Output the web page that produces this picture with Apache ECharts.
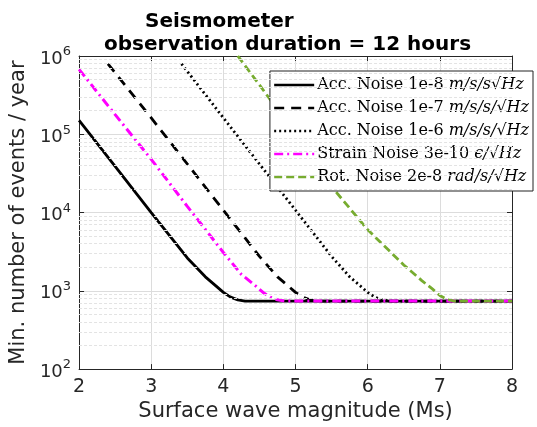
<!DOCTYPE html>
<html>
<head>
<meta charset="utf-8">
<script src="https://cdn.jsdelivr.net/npm/echarts@6/dist/echarts.min.js"></script>
<style>
  html, body { margin: 0; padding: 0; background: #fff; }
  #chart { width: 537px; height: 427px; }
</style>
</head>
<body>
<div id="chart"></div>
<script>
// magnitude (Ms) and min. number of events / year
const accE8X = [2, 2.5, 3, 3.5, 3.75, 3.9, 4, 4.1, 4.2, 4.3, 5, 6, 7, 8];
const accE8Y = [151000, 38900, 10000, 2630, 1510, 1150, 955, 832, 767, 740, 740, 740, 740, 740];

const accE7X = [2.4, 3, 3.5, 4, 4.5, 4.75, 4.9, 5, 5.1, 5.2, 5.3, 6, 7, 8];
const accE7Y = [794000, 162000, 41700, 10700, 2750, 1510, 1150, 955, 832, 767, 740, 740, 740, 740];

const accE6X = [3.42, 4, 4.5, 5, 5.5, 5.75, 5.9, 6, 6.1, 6.2, 6.3, 7, 8];
const accE6Y = [794000, 162000, 41700, 10700, 2750, 1510, 1150, 955, 832, 767, 740, 740, 740];

const strainX = [2, 2.5, 3, 3.5, 4, 4.25, 4.45, 4.55, 4.65, 4.75, 4.85, 6, 7, 8];
const strainY = [676000, 178000, 47900, 12000, 3090, 1620, 1150, 955, 832, 767, 740, 740, 740, 740];

const rotX = [4.2, 4.5, 5, 5.5, 6, 6.5, 6.75, 6.9, 7, 7.1, 7.2, 8];
const rotY = [1000000, 427000, 100000, 21400, 6030, 2140, 1350, 1050, 871, 776, 740, 740];

const xTicks = [2, 3, 4, 5, 6, 7, 8];
const minorGrid = [200, 300, 400, 500, 600, 700, 800, 900,
  2000, 3000, 4000, 5000, 6000, 7000, 8000, 9000,
  20000, 30000, 40000, 50000, 60000, 70000, 80000, 90000,
  200000, 300000, 400000, 500000, 600000, 700000, 800000, 900000];

const names = [
  'Acc. Noise 1e-8',
  'Acc. Noise 1e-7',
  'Acc. Noise 1e-6',
  'Strain Noise 3e-10',
  'Rot. Noise 2e-8'
];
const units = ['m/s/s√Hz', 'm/s/s/√Hz', 'm/s/s/√Hz', 'ϵ/√Hz', 'rad/s/√Hz'];

const pairs = (xs, ys) => xs.map((x, i) => [x, ys[i]]);

const chart = echarts.init(document.getElementById('chart'));

const font = 'DejaVu Sans';
const lineSeries = (name, xs, ys, color, type, w) => ({
  name: name,
  type: 'line',
  data: pairs(xs, ys),
  symbol: 'none',
  smooth: false,
  lineStyle: { color: color, width: w, type: type },
  itemStyle: { color: color },
  xAxisIndex: 0,
  yAxisIndex: 0
});

const option = {
  animation: false,
  backgroundColor: '#fff',
  title: [
    {
      text: 'Seismometer',
      left: 140, top: 7,
      textStyle: { fontFamily: font, fontSize: 20, fontWeight: 'bold', color: '#000' }
    },
    {
      text: 'observation duration = 12 hours',
      left: 99, top: 30,
      textStyle: { fontFamily: font, fontSize: 20, fontWeight: 'bold', color: '#000' }
    }
  ],
  grid: { left: 76, right: 25, top: 56, bottom: 56, show: false },
  legend: {
    orient: 'vertical',
    right: 4,
    top: 71,
    backgroundColor: '#fff',
    borderColor: '#222',
    borderWidth: 1,
    padding: [6, 4, 6, 3],
    itemGap: 7,
    itemWidth: 40,
    itemHeight: 18,
    data: names,
    itemStyle: { opacity: 0, borderWidth: 0 },
    lineStyle: { width: 2.5 },
    formatter: (n) => {
      const i = names.indexOf(n);
      return '{n|' + n + ' }{u|' + units[i] + '}';
    },
    textStyle: {
      padding: [0, 0, 0, -2],
      rich: {
        n: { fontFamily: 'DejaVu Serif', fontSize: 16, color: '#000' },
        u: { fontFamily: 'DejaVu Serif', fontSize: 16, fontStyle: 'italic', color: '#000' }
      }
    }
  },
  xAxis: [
    {
      type: 'value', min: 2, max: 8, interval: 1,
      name: 'Surface wave magnitude (Ms)',
      nameLocation: 'middle', nameGap: 30,
      nameTextStyle: { fontFamily: font, fontSize: 21, color: '#262626' },
      axisLine: { lineStyle: { color: '#262626', width: 1 } },
      axisTick: { inside: true, length: 5, lineStyle: { color: '#262626' } },
      axisLabel: {
        fontFamily: font, fontSize: 19, color: '#262626', margin: 8,
        formatter: (v) => (xTicks.indexOf(v) >= 0 ? String(v) : '')
      },
      splitLine: { show: true, lineStyle: { color: '#dcdcdc', width: 1 } }
    },
    {
      type: 'value', min: 2, max: 8, interval: 1, position: 'top',
      axisLine: { lineStyle: { color: '#262626', width: 1 } },
      axisTick: { inside: true, length: 5, lineStyle: { color: '#262626' } },
      axisLabel: { show: false },
      splitLine: { show: false }
    }
  ],
  yAxis: [
    {
      type: 'log', logBase: 10, min: 100, max: 1000000,
      name: 'Min. number of events / year',
      nameLocation: 'middle', nameGap: 50,
      nameTextStyle: { fontFamily: font, fontSize: 21, color: '#262626' },
      axisLine: { show: true, lineStyle: { color: '#262626', width: 1 } },
      axisTick: { inside: true, length: 5, lineStyle: { color: '#262626' } },
      axisLabel: {
        color: '#262626', margin: 8,
        formatter: (v) => '{b|10}{s|' + Math.round(Math.log10(v)) + '}',
        rich: {
          b: { fontFamily: font, fontSize: 18, color: '#262626', padding: [6, 0, 0, 0] },
          s: { fontFamily: font, fontSize: 13, color: '#262626', padding: [0, 0, 8, 0] }
        }
      },
      splitLine: { show: true, lineStyle: { color: '#dcdcdc', width: 1 } }
    },
    {
      type: 'log', logBase: 10, min: 100, max: 1000000, position: 'right',
      axisLine: { show: true, lineStyle: { color: '#262626', width: 1 } },
      axisTick: { inside: true, length: 5, lineStyle: { color: '#262626' } },
      axisLabel: { show: false },
      splitLine: { show: false }
    }
  ],
  series: [
    {
      name: 'minor-grid',
      type: 'line',
      data: [],
      silent: true,
      xAxisIndex: 0,
      yAxisIndex: 0,
      markLine: {
        silent: true,
        symbol: 'none',
        label: { show: false },
        animation: false,
        lineStyle: { color: '#e3e3e3', width: 1, type: [3, 2] },
        data: minorGrid.map((v) => ({ yAxis: v }))
      }
    },
    lineSeries(names[0], accE8X, accE8Y, '#000000', 'solid', 2.8),
    lineSeries(names[1], accE7X, accE7Y, '#000000', [10, 7], 2.8),
    lineSeries(names[2], accE6X, accE6Y, '#000000', [2, 3], 2.8),
    lineSeries(names[3], strainX, strainY, '#ff00ff', [9, 4, 2, 4], 3),
    lineSeries(names[4], rotX, rotY, '#77ac30', [8, 4], 2.8)
  ]
};

chart.setOption(option);
</script>
</body>
</html>
